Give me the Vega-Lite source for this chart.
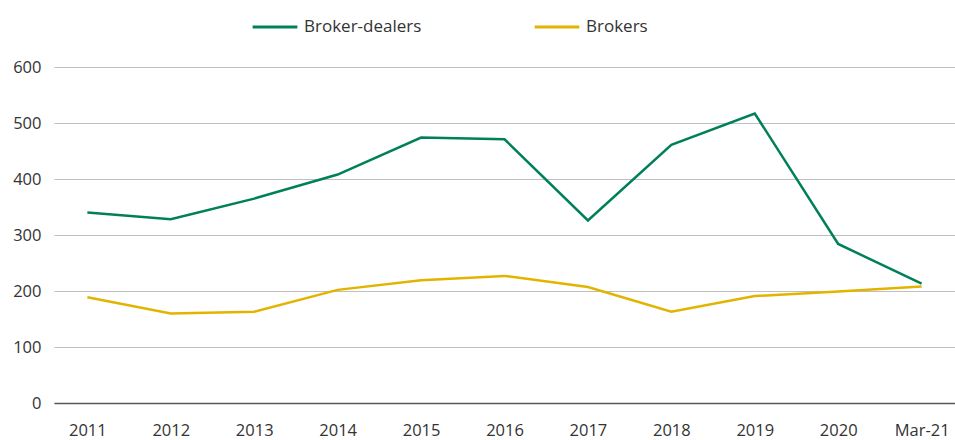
{
  "$schema": "https://vega.github.io/schema/vega-lite/v6.json",
  "width": 901,
  "height": 336,
  "autosize": {"type": "none"},
  "padding": {"left": 54, "top": 67, "right": 0, "bottom": 37},
  "background": "white",
  "config": {
    "view": {"stroke": null},
    "font": "Open Sans",
    "axis": {"labelFont": "Open Sans", "labelFontSize": 16.5, "labelColor": "#333333"}
  },
  "data": {
    "values": [
      {"period": "2011", "series": "Broker-dealers", "value": 340},
      {"period": "2012", "series": "Broker-dealers", "value": 328},
      {"period": "2013", "series": "Broker-dealers", "value": 365},
      {"period": "2014", "series": "Broker-dealers", "value": 408},
      {"period": "2015", "series": "Broker-dealers", "value": 474},
      {"period": "2016", "series": "Broker-dealers", "value": 471},
      {"period": "2017", "series": "Broker-dealers", "value": 326},
      {"period": "2018", "series": "Broker-dealers", "value": 461},
      {"period": "2019", "series": "Broker-dealers", "value": 517},
      {"period": "2020", "series": "Broker-dealers", "value": 284},
      {"period": "Mar-21", "series": "Broker-dealers", "value": 213},
      {"period": "2011", "series": "Brokers", "value": 189},
      {"period": "2012", "series": "Brokers", "value": 160},
      {"period": "2013", "series": "Brokers", "value": 163},
      {"period": "2014", "series": "Brokers", "value": 202},
      {"period": "2015", "series": "Brokers", "value": 219},
      {"period": "2016", "series": "Brokers", "value": 227},
      {"period": "2017", "series": "Brokers", "value": 207},
      {"period": "2018", "series": "Brokers", "value": 163},
      {"period": "2019", "series": "Brokers", "value": 191},
      {"period": "2020", "series": "Brokers", "value": 199},
      {"period": "Mar-21", "series": "Brokers", "value": 208}
    ]
  },
  "mark": {"type": "line", "strokeWidth": 2.5},
  "encoding": {
    "x": {
      "field": "period",
      "type": "ordinal",
      "sort": null,
      "scale": {"type": "point", "padding": 0.4},
      "axis": {
        "title": null,
        "labelAngle": 0,
        "ticks": false,
        "domain": true,
        "domainColor": "#595959",
        "domainWidth": 1.5,
        "labelPadding": 19,
        "grid": false
      }
    },
    "y": {
      "field": "value",
      "type": "quantitative",
      "scale": {"domain": [0, 600], "nice": false},
      "axis": {
        "title": null,
        "values": [0, 100, 200, 300, 400, 500, 600],
        "ticks": false,
        "domain": false,
        "grid": true,
        "gridColor": "#bfbfbf",
        "gridWidth": 1,
        "labelPadding": 13
      }
    },
    "color": {
      "field": "series",
      "type": "nominal",
      "scale": {"domain": ["Broker-dealers", "Brokers"], "range": ["#00805A", "#E2B400"]},
      "legend": {
        "title": null,
        "orient": "none",
        "direction": "horizontal",
        "legendX": 197,
        "legendY": -64,
        "symbolType": "stroke",
        "symbolSize": 2000,
        "symbolStrokeWidth": 3,
        "labelFont": "Open Sans",
        "labelFontSize": 17,
        "labelColor": "#333333",
        "labelOffset": 5,
        "columnPadding": 106
      }
    }
  }
}
